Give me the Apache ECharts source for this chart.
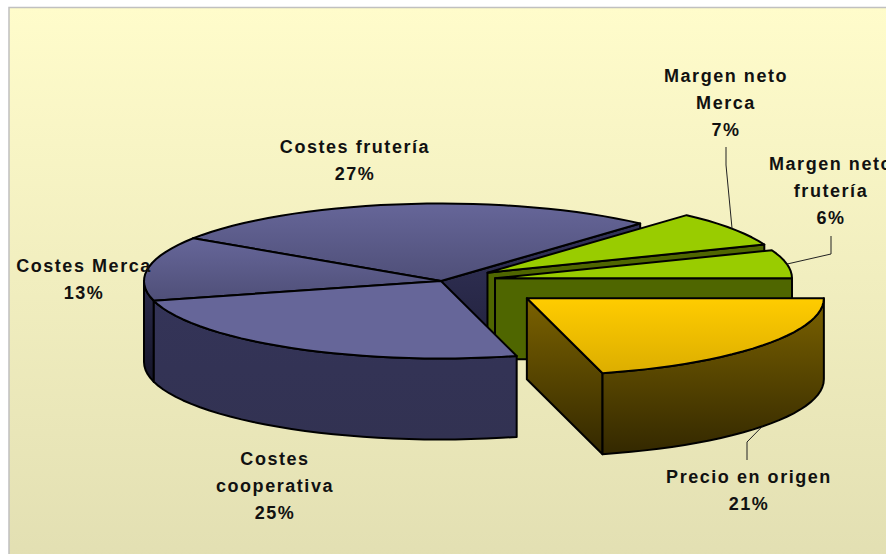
<!DOCTYPE html>
<html>
<head>
<meta charset="utf-8">
<script src="https://cdn.jsdelivr.net/npm/echarts@6/dist/echarts.min.js"></script>
<style>
  html, body { margin: 0; padding: 0; background: #fff; overflow: hidden; }
  #chart { width: 886px; height: 554px; }
  #chart text { letter-spacing: 1.55px; }
</style>
</head>
<body>
<div id="chart"></div>
<script>
// clockwise from 3 o'clock, same order as the source sheet
const categories = ['Precio en origen', 'Costes cooperativa', 'Costes Merca', 'Costes frutería', 'Margen neto Merca', 'Margen neto frutería'];
// shares, the labels round them
const values = [20.9, 25, 13.4, 27.4, 7.4, 5.9];
const labelLines = ['Precio en origen', 'Costes\ncooperativa', 'Costes Merca', 'Costes frutería', 'Margen neto\nMerca', 'Margen neto\nfrutería'];

// pie geometry
const cx = 441, cy = 281, rx = 297, ry = 77.5, depth = 81;
const startAngle = 90;
const explode = [0.365, 0, 0, 0, 0.19, 0.185];
// back to front
const drawOrder = [3, 4, 5, 2, 1, 0];

// top, wall and cut-face colours per slice
const navy = { top: ['#666699', '#666699'], rim: ['#343458', '#323252'], cut: ['#33335a', '#20203a'] };
const sliceStyles = [
  { top: ['#ffcc00', '#dcae00'], rim: ['#7b6200', '#332800'], cut: ['#7b6200', '#332800'] },
  navy,
  { top: ['#666699', '#4f4f78'], rim: ['#2c2c4c', '#15152a'], cut: ['#33335a', '#20203a'] },
  { top: ['#666699', '#4f4f78'], rim: ['#33335a', '#20203a'], cut: ['#33335a', '#20203a'] },
  { top: ['#99cc00', '#99cc00'], rim: ['#4f6600', '#4f6600'], cut: ['#4f6600', '#4f6600'] },
  { top: ['#99cc00', '#99cc00'], rim: ['#4f6600', '#4f6600'], cut: ['#4f6600', '#4f6600'] }
];

// label layout: centre x, top y of first line, optional leader [end, elbow]
const labelBox = [[749, 463], [275, 445], [84, 252], [355, 133], [726, 62], [831, 150]];
const leaders = [[[747, 460], [747, 442]], null, null, null, [[726, 147], [726, 165]], [[831, 236], [831, 254]]];

const total = values.reduce((a, b) => a + b, 0);
const toRad = d => d * Math.PI / 180;

function sliceAngles(i) {
  let a = startAngle;
  for (let k = 0; k < i; k++) a += values[k] / total * 360;
  return [a, a + values[i] / total * 360];
}

function apexOf(i) {
  const [a0, a1] = sliceAngles(i);
  const mid = toRad((a0 + a1) / 2);
  return [cx + explode[i] * rx * Math.sin(mid), cy - explode[i] * ry * Math.cos(mid)];
}

function rimPoint(apex, deg, dy) {
  return [apex[0] + rx * Math.sin(toRad(deg)), apex[1] - ry * Math.cos(toRad(deg)) + (dy || 0)];
}

function arc(apex, a0, a1, dy) {
  const pts = [];
  const n = Math.max(2, Math.ceil(Math.abs(a1 - a0) / 3));
  for (let k = 0; k <= n; k++) pts.push(rimPoint(apex, a0 + (a1 - a0) * k / n, dy));
  return pts;
}

function grad(c) {
  return { type: 'linear', x: 0, y: 0, x2: 0, y2: 1, colorStops: [{ offset: 0, color: c[0] }, { offset: 1, color: c[1] }] };
}

function poly(points, colors) {
  return {
    type: 'polygon',
    shape: { points: points },
    style: { fill: grad(colors), stroke: '#000', lineWidth: 2, lineJoin: 'round' }
  };
}

function renderSlice(params, api) {
  const i = api.value(0);
  const [a0, a1] = sliceAngles(i);
  const apex = apexOf(i);
  const st = sliceStyles[i];
  const kids = [];
  const low = [apex[0], apex[1] + depth];

  // cut faces, only those turned towards the viewer
  [[a0, a0 - 90], [a1, a1 + 90]].forEach(([edge, normal]) => {
    if (Math.cos(toRad(normal)) < 0) {
      kids.push(poly([apex, rimPoint(apex, edge), rimPoint(apex, edge, depth), low], st.cut));
    }
  });
  // outer wall is visible between 90 and 270 degrees
  const from = Math.max(a0, 90), to = Math.min(a1, 270);
  if (to > from) {
    kids.push(poly(arc(apex, from, to).concat(arc(apex, to, from, depth)), st.rim));
  }
  kids.push(poly([apex].concat(arc(apex, a0, a1)), st.top));
  return { type: 'group', children: kids };
}

function renderLabel(params, api) {
  const i = api.value(0);
  const kids = [];
  const [a0, a1] = sliceAngles(i);
  if (leaders[i]) {
    const mid = (a0 + a1) / 2;
    const onWall = mid > 90 && mid < 270 ? depth : 0;
    kids.push({
      type: 'polyline',
      shape: { points: [leaders[i][0], leaders[i][1], rimPoint(apexOf(i), mid, onWall)] },
      style: { stroke: '#222', lineWidth: 1, fill: null }
    });
  }
  kids.push({
    type: 'text',
    style: {
      text: labelLines[i] + '\n' + Math.round(values[i]) + '%',
      x: labelBox[i][0],
      y: labelBox[i][1],
      align: 'center',
      verticalAlign: 'top',
      font: 'bold 18px "Liberation Sans", Arial, sans-serif',
      lineHeight: 27,
      fill: '#111'
    }
  });
  return { type: 'group', children: kids };
}

const chart = echarts.init(document.getElementById('chart'), null, { renderer: 'svg' });
chart.setOption({
  animation: false,
  graphic: [{
    type: 'rect',
    z: -10,
    shape: { x: 9, y: 7.5, width: 890, height: 560 },
    style: {
      fill: grad(['#fffccb', '#e2dfb2']),
      stroke: '#c0c0c0',
      lineWidth: 1.5
    }
  }],
  series: [
    {
      type: 'custom',
      name: 'pie',
      coordinateSystem: 'none',
      renderItem: renderSlice,
      data: drawOrder.map(i => ({ name: categories[i], value: [i, values[i]] })),
      silent: true,
      z: 2
    },
    {
      type: 'custom',
      name: 'labels',
      coordinateSystem: 'none',
      renderItem: renderLabel,
      data: categories.map((c, i) => ({ name: c, value: [i, values[i]] })),
      silent: true,
      z: 3
    }
  ]
});
</script>
</body>
</html>
